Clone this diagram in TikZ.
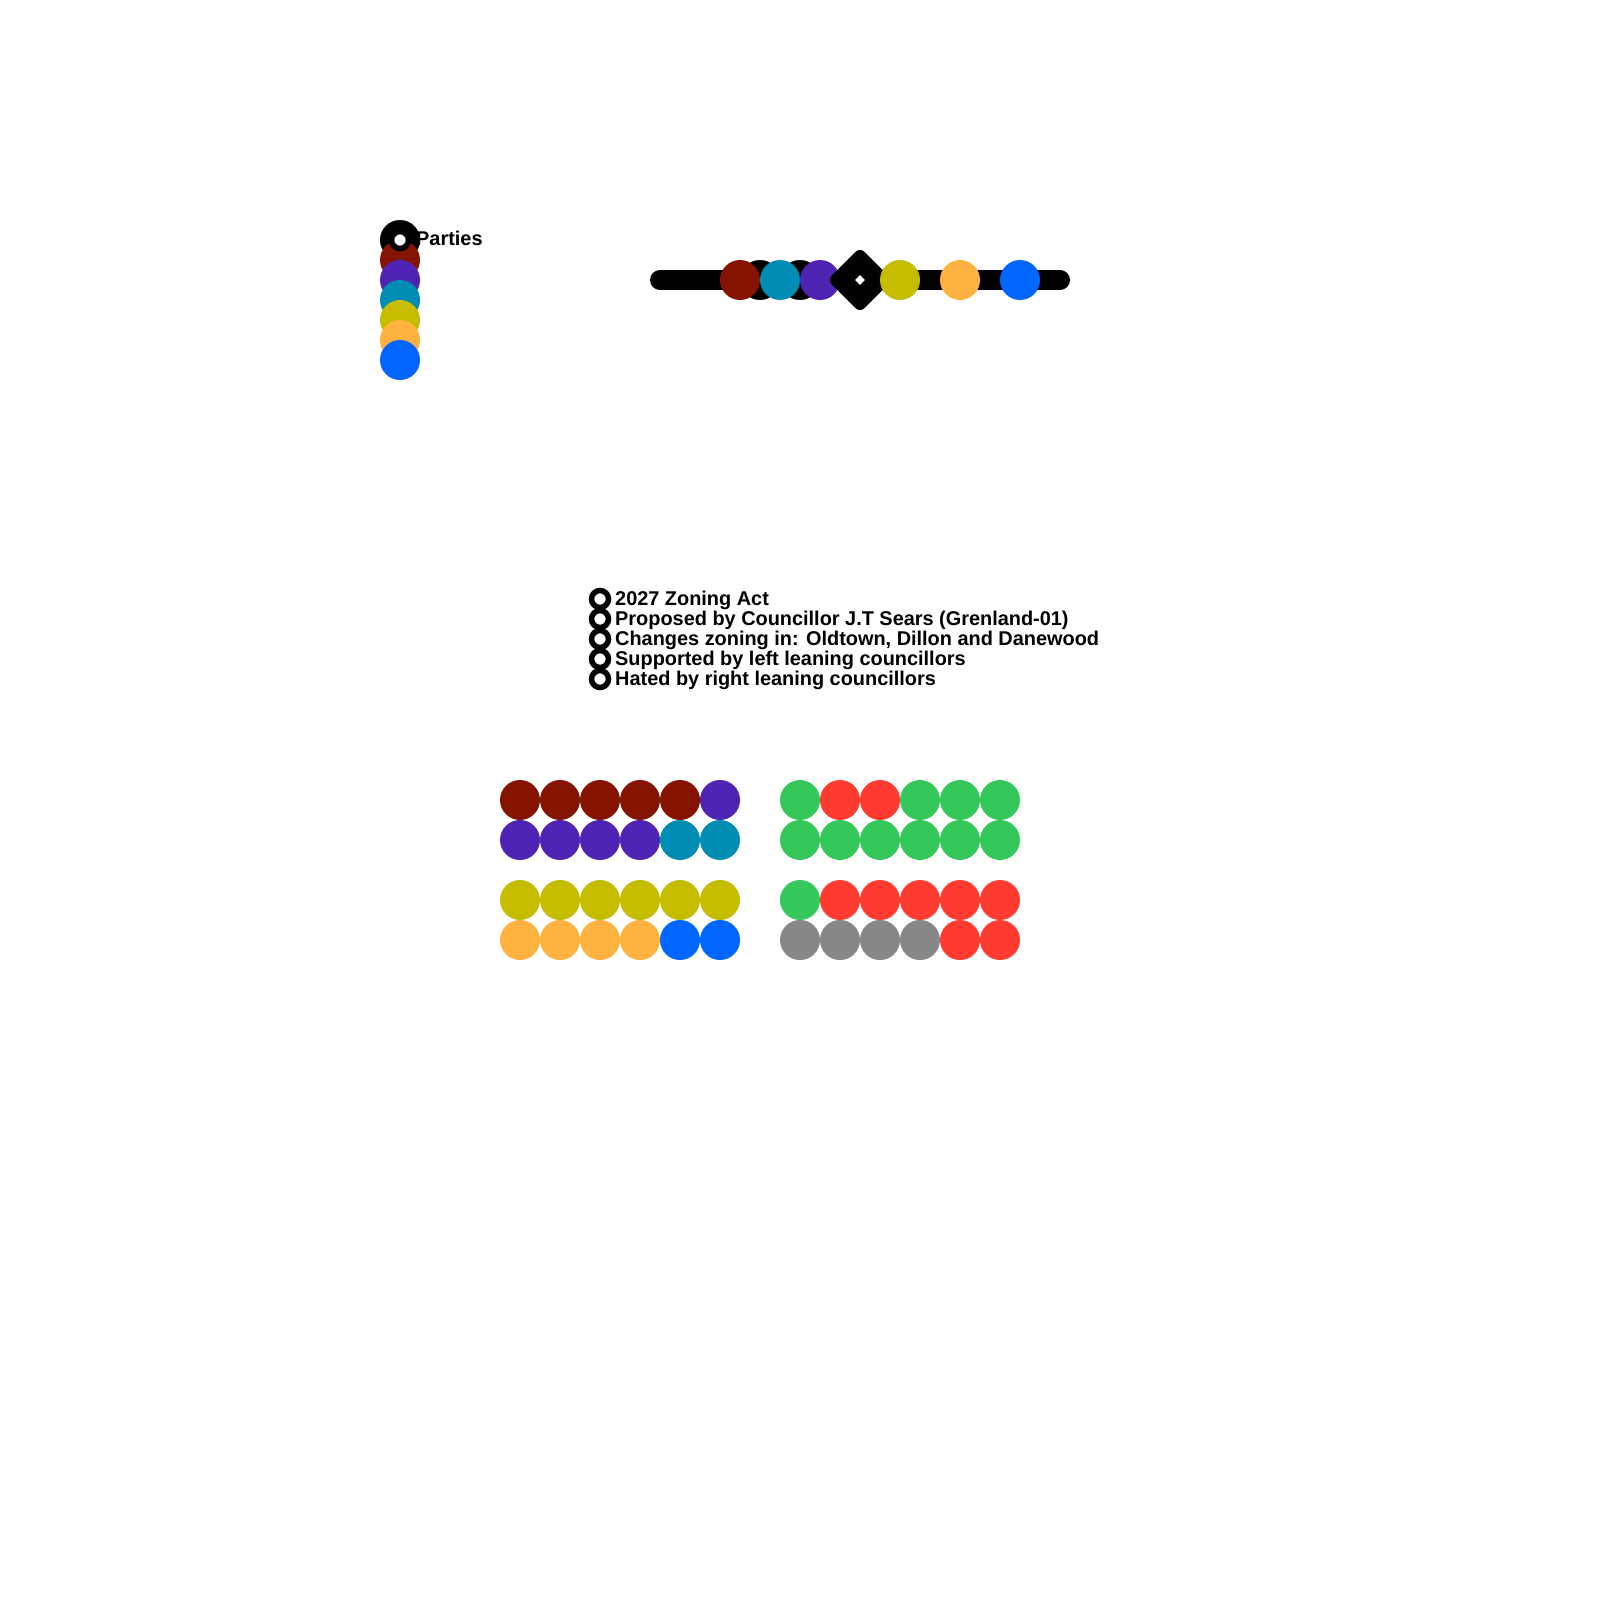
\documentclass[tikz,border=0pt]{standalone}
\usepackage{fontspec}
\setmainfont{Liberation Sans}
\usepackage{tikz}
\usepackage{xcolor}

\definecolor{cMaroon}{HTML}{841400}
\definecolor{cViolet}{HTML}{4F23B3}
\definecolor{cTeal}{HTML}{008DB4}
\definecolor{cOlive}{HTML}{C6BC00}
\definecolor{cOrange}{HTML}{FFB23F}
\definecolor{cBlue}{HTML}{0066FF}
\definecolor{cAye}{HTML}{34C85A}
\definecolor{cNay}{HTML}{FF3B30}
\definecolor{cAbstain}{HTML}{878787}

\begin{document}
\begin{tikzpicture}[x=1pt, y=-1pt,
    seat/.style={circle, inner sep=0pt, minimum size=40pt},
    bullet/.style={circle, draw=black, fill=white, line width=5.5pt, inner sep=0pt, minimum size=17pt},
    txt/.style={anchor=base west, inner sep=0pt, font=\bfseries\fontsize{19.9}{20}\selectfont}]

        \useasboundingbox (0,0) rectangle (1600,1600);

        % Party legend
        \node[seat, fill=black] (p0) at (400,240) {};
        \node[seat, fill=cMaroon] (p1) at (400,260) {};
        \node[seat, fill=cViolet] (p2) at (400,280) {};
        \node[seat, fill=cTeal] (p3) at (400,300) {};
        \node[seat, fill=cOlive] (p4) at (400,320) {};
        \node[seat, fill=cOrange] (p5) at (400,340) {};
        \node[seat, fill=cBlue] (p6) at (400,360) {};
        \node[bullet] (pb) at (p0) {};
        \node[txt] (parties) at (416,245) {Parties};

        % Left-right axis
        \coordinate (axl) at (660,280);
        \coordinate (axr) at (1060,280);
        \draw[line width=20pt, line cap=round] (axl) -- (axr);
        \node[seat, fill=black] (k1) at (760,280) {};
        \node[seat, fill=black] (k2) at (800,280) {};
        \node[seat, fill=cMaroon] (a1) at (740,280) {};
        \node[seat, fill=cTeal] (a2) at (780,280) {};
        \node[seat, fill=cViolet] (a3) at (820,280) {};
        \node[rectangle, fill=black, rotate=45, rounded corners=6pt, inner sep=0pt, minimum size=46pt] (mid) at (860,280) {};
        \node[rectangle, fill=white, rotate=45, inner sep=0pt, minimum size=7pt] (midd) at (mid) {};
        \node[seat, fill=cOlive] (a4) at (900,280) {};
        \node[seat, fill=cOrange] (a5) at (960,280) {};
        \node[seat, fill=cBlue] (a6) at (1020,280) {};

        % Bill description
        \node[bullet] (b1) at (600,599) {};
        \node[bullet] (b2) at (600,619) {};
        \node[bullet] (b3) at (600,639) {};
        \node[bullet] (b4) at (600,659) {};
        \node[bullet] (b5) at (600,679) {};
        \node[txt] (t1) at (615,605) {2027 Zoning Act};
        \node[txt] (t2) at (615,625) {Proposed by Councillor J.T Sears (Grenland-01)};
        \node[txt] (t3) at (615,645) {Changes zoning in: Oldtown, Dillon and Danewood};
        \node[txt] (t4) at (615,665) {Supported by left leaning councillors};
        \node[txt] (t5) at (615,685) {Hated by right leaning councillors};

        % Seats by party
        \node[seat, fill=cMaroon] (l11) at (520,800) {};
        \node[seat, fill=cMaroon] (l12) at (560,800) {};
        \node[seat, fill=cMaroon] (l13) at (600,800) {};
        \node[seat, fill=cMaroon] (l14) at (640,800) {};
        \node[seat, fill=cMaroon] (l15) at (680,800) {};
        \node[seat, fill=cViolet] (l16) at (720,800) {};

        \node[seat, fill=cViolet] (l21) at (520,840) {};
        \node[seat, fill=cViolet] (l22) at (560,840) {};
        \node[seat, fill=cViolet] (l23) at (600,840) {};
        \node[seat, fill=cViolet] (l24) at (640,840) {};
        \node[seat, fill=cTeal] (l25) at (680,840) {};
        \node[seat, fill=cTeal] (l26) at (720,840) {};

        \node[seat, fill=cOlive] (l31) at (520,900) {};
        \node[seat, fill=cOlive] (l32) at (560,900) {};
        \node[seat, fill=cOlive] (l33) at (600,900) {};
        \node[seat, fill=cOlive] (l34) at (640,900) {};
        \node[seat, fill=cOlive] (l35) at (680,900) {};
        \node[seat, fill=cOlive] (l36) at (720,900) {};

        \node[seat, fill=cOrange] (l41) at (520,940) {};
        \node[seat, fill=cOrange] (l42) at (560,940) {};
        \node[seat, fill=cOrange] (l43) at (600,940) {};
        \node[seat, fill=cOrange] (l44) at (640,940) {};
        \node[seat, fill=cBlue] (l45) at (680,940) {};
        \node[seat, fill=cBlue] (l46) at (720,940) {};

        % Seats by vote
        \node[seat, fill=cAye] (r11) at (800,800) {};
        \node[seat, fill=cNay] (r12) at (840,800) {};
        \node[seat, fill=cNay] (r13) at (880,800) {};
        \node[seat, fill=cAye] (r14) at (920,800) {};
        \node[seat, fill=cAye] (r15) at (960,800) {};
        \node[seat, fill=cAye] (r16) at (1000,800) {};

        \node[seat, fill=cAye] (r21) at (800,840) {};
        \node[seat, fill=cAye] (r22) at (840,840) {};
        \node[seat, fill=cAye] (r23) at (880,840) {};
        \node[seat, fill=cAye] (r24) at (920,840) {};
        \node[seat, fill=cAye] (r25) at (960,840) {};
        \node[seat, fill=cAye] (r26) at (1000,840) {};

        \node[seat, fill=cAye] (r31) at (800,900) {};
        \node[seat, fill=cNay] (r32) at (840,900) {};
        \node[seat, fill=cNay] (r33) at (880,900) {};
        \node[seat, fill=cNay] (r34) at (920,900) {};
        \node[seat, fill=cNay] (r35) at (960,900) {};
        \node[seat, fill=cNay] (r36) at (1000,900) {};

        \node[seat, fill=cAbstain] (r41) at (800,940) {};
        \node[seat, fill=cAbstain] (r42) at (840,940) {};
        \node[seat, fill=cAbstain] (r43) at (880,940) {};
        \node[seat, fill=cAbstain] (r44) at (920,940) {};
        \node[seat, fill=cNay] (r45) at (960,940) {};
        \node[seat, fill=cNay] (r46) at (1000,940) {};

    \end{tikzpicture}
\end{document}
